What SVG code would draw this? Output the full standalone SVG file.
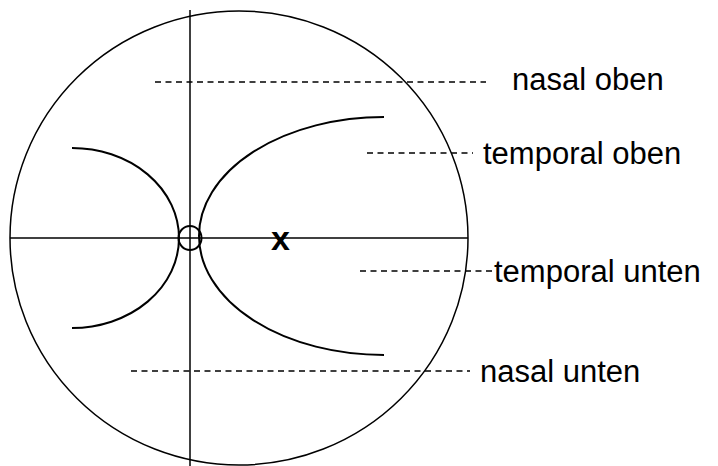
<svg xmlns="http://www.w3.org/2000/svg" width="718" height="466" viewBox="0 0 718 466">
<style>
.s{fill:none;stroke:#000;stroke-width:1.5}
.c{fill:none;stroke:#000;stroke-width:2}
.d{fill:none;stroke:#000;stroke-width:1.5;stroke-dasharray:6 4.5}
.t{font-family:"Liberation Sans",Arial,sans-serif;font-size:31px;fill:#000}
.x{font-family:"Liberation Sans",Arial,sans-serif;font-size:34px;font-weight:bold;fill:#000}
</style>
<rect width="718" height="466" fill="#fff"/>
<g id="field">
<ellipse class="s" cx="239" cy="238" rx="229" ry="227"/>
<line class="s" x1="10" y1="238" x2="468" y2="238"/>
<line class="s" x1="190" y1="10" x2="190" y2="466"/>
<ellipse class="c" cx="190" cy="238" rx="11.5" ry="12"/>
<text class="x" x="271" y="250">x</text>
</g>
<g id="curves">
<path class="c" d="M72,148 A107,90 0 0 1 72,328"/>
<path class="c" d="M384,117 A185,119 0 0 0 384,355"/>
</g>
<g id="connectors">
<line class="d" x1="155" y1="82" x2="486" y2="82"/>
<line class="d" x1="367" y1="153" x2="473" y2="153"/>
<line class="d" x1="360" y1="271" x2="495" y2="271"/>
<line class="d" x1="131" y1="371" x2="470" y2="371"/>
</g>
<g id="labels">
<text class="t" x="512" y="90">nasal oben</text>
<text class="t" x="483" y="164">temporal oben</text>
<text class="t" x="494" y="282">temporal unten</text>
<text class="t" x="480" y="382">nasal unten</text>
</g>
</svg>
